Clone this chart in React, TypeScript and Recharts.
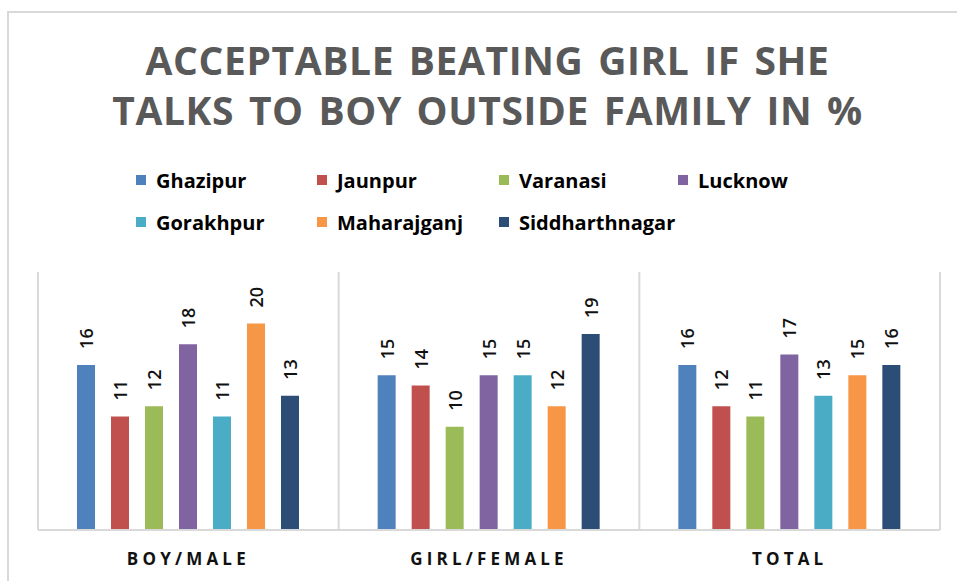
import React from "react";
import { Bar, BarChart, CartesianGrid, LabelList, XAxis, YAxis } from "recharts";

const categories = ["BOY/MALE", "GIRL/FEMALE", "TOTAL"];

const ghazipur = [16, 15, 16];
const jaunpur = [11, 14, 12];
const varanasi = [12, 10, 11];
const lucknow = [18, 15, 17];
const gorakhpur = [11, 15, 13];
const maharajganj = [20, 12, 15];
const siddharthnagar = [13, 19, 16];

const series = [
  { key: "Ghazipur", values: ghazipur, color: "#4F81BD" },
  { key: "Jaunpur", values: jaunpur, color: "#C0504D" },
  { key: "Varanasi", values: varanasi, color: "#9BBB59" },
  { key: "Lucknow", values: lucknow, color: "#8064A2" },
  { key: "Gorakhpur", values: gorakhpur, color: "#4BACC6" },
  { key: "Maharajganj", values: maharajganj, color: "#F79646" },
  { key: "Siddharthnagar", values: siddharthnagar, color: "#2C4D75" },
];

const separatorTicks = [0, 1, 2, 3];

const data = categories.map((name, i) => {
  const row: Record<string, string | number> = { name, sep: i + 0.5 };
  series.forEach((s) => {
    row[s.key] = s.values[i];
  });
  return row;
});

const FONT = "'Open Sans', 'DejaVu Sans', sans-serif";

function ValueLabel(props: any) {
  const { x, y, width, value } = props;
  const cx = x + width / 2;
  const ty = y - 16;
  return (
    <text
      x={cx}
      y={ty}
      transform={`rotate(-90, ${cx}, ${ty})`}
      textAnchor="start"
      dominantBaseline="central"
      fontSize={18}
      fontWeight={600}
      fontFamily={FONT}
      fill="#111"
    >
      {value}
    </text>
  );
}

function CategoryTick(props: any) {
  const { x, y, payload } = props;
  return (
    <text
      x={x}
      y={y}
      dy={27}
      textAnchor="middle"
      fontSize={17}
      fontWeight={700}
      letterSpacing={4.2}
      fontFamily={FONT}
      fill="#111"
    >
      {payload.value}
    </text>
  );
}

const legendCols = [136, 317, 499, 678];
const legendRows = [180, 222];

export default function App() {
  return (
    <div
      style={{
        position: "absolute",
        left: 0,
        top: 0,
        width: 957,
        height: 581,
        background: "#fff",
        overflow: "hidden",
        fontFamily: FONT,
      }}
    >
      <div
        style={{
          position: "absolute",
          left: 7,
          top: 11,
          width: 2000,
          height: 2000,
          borderLeft: "2px solid #d9d9d9",
          borderTop: "2px solid #d9d9d9",
        }}
      />
      <div
        style={{
          position: "absolute",
          left: 9,
          top: 35,
          width: 957,
          textAlign: "center",
          fontSize: 39,
          lineHeight: "50px",
          fontWeight: 700,
          letterSpacing: 0.6,
          wordSpacing: 4,
          color: "#595959",
        }}
      >
        ACCEPTABLE BEATING GIRL IF SHE
        <br />
        TALKS TO BOY OUTSIDE FAMILY IN %
      </div>
      {series.map((s, i) => (
        <div
          key={s.key}
          style={{
            position: "absolute",
            left: legendCols[i % 4],
            top: legendRows[Math.floor(i / 4)] - 12,
            height: 24,
            display: "flex",
            alignItems: "center",
            fontSize: 20,
            fontWeight: 700,
            color: "#000",
            whiteSpace: "nowrap",
          }}
        >
          <span
            style={{
              width: 10,
              height: 10,
              background: s.color,
              marginRight: 10,
              display: "inline-block",
            }}
          />
          {s.key}
        </div>
      ))}
      <div style={{ position: "absolute", left: 0, top: 0 }}>
        <BarChart
          width={957}
          height={581}
          data={data}
          margin={{ top: 272, right: 17, bottom: 0, left: 38 }}
          barSize={18}
          barGap={16}
        >
          <XAxis
            xAxisId="sep"
            dataKey="sep"
            type="number"
            domain={[0, 3]}
            ticks={separatorTicks}
            hide
          />
          <CartesianGrid
            xAxisId="sep"
            horizontal={false}
            stroke="#d9d9d9"
            strokeWidth={2}
          />
          <XAxis
            dataKey="name"
            height={51}
            tickLine={false}
            axisLine={{ stroke: "#d9d9d9", strokeWidth: 2 }}
            tick={<CategoryTick />}
            interval={0}
          />
          <YAxis hide domain={[0, 25]} />
          {series.map((s) => (
            <Bar
              key={s.key}
              dataKey={s.key}
              fill={s.color}
              isAnimationActive={false}
            >
              <LabelList dataKey={s.key} content={<ValueLabel />} />
            </Bar>
          ))}
        </BarChart>
      </div>
    </div>
  );
}
